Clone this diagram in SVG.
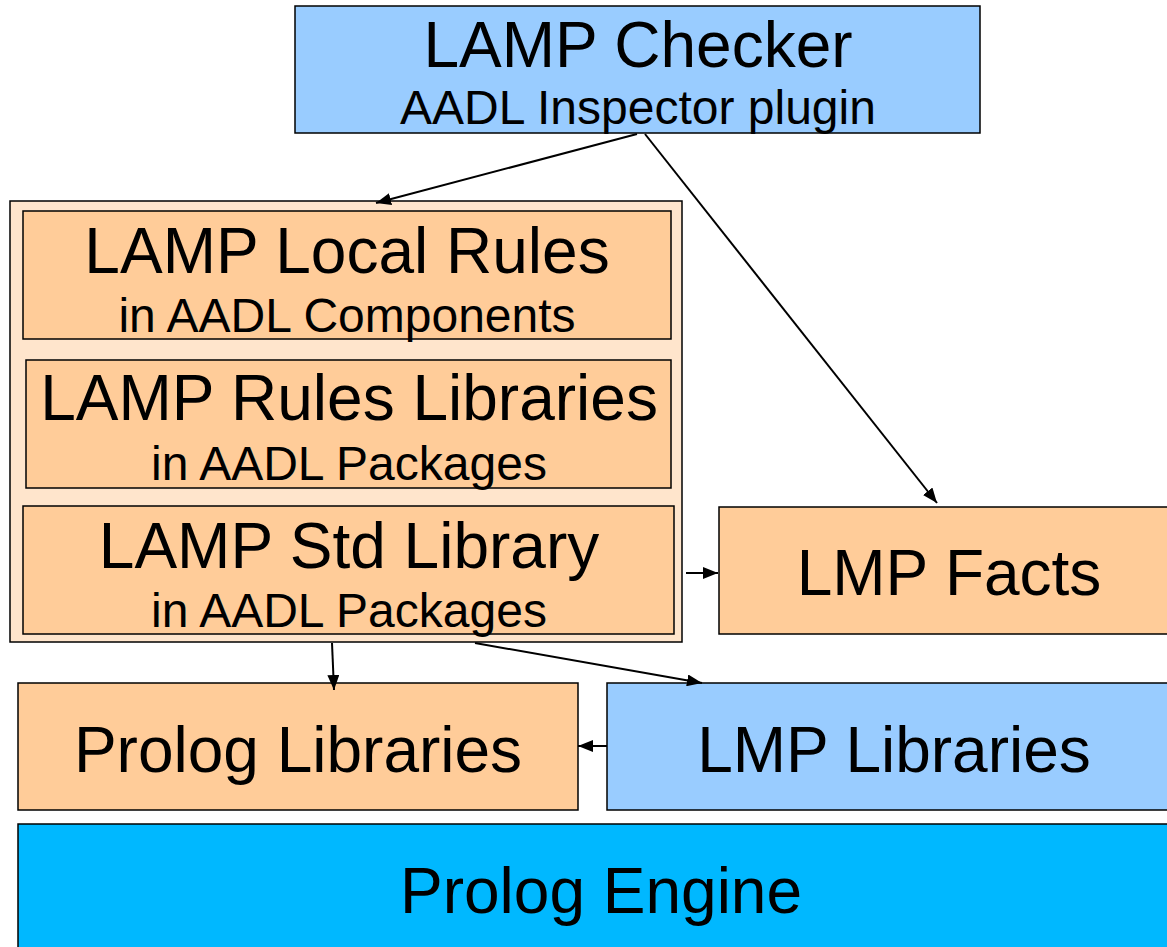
<svg xmlns="http://www.w3.org/2000/svg" width="1167" height="947" viewBox="0 0 1167 947">
<style>
.box{stroke:#000;stroke-width:1.5}
.blue{fill:#99CCFF}
.peach{fill:#FFCC99}
.lpeach{fill:#FFE5CC}
.engine{fill:#00B8FF}
text{font-family:"Liberation Sans",Arial,sans-serif;fill:#000;text-anchor:middle}
.big{font-size:64px}
.small{font-size:48px}
.conn line{stroke:#000;stroke-width:2;fill:none}
</style>
<defs>
<marker id="arr" viewBox="0 0 15 12" refX="15" refY="6" markerWidth="15" markerHeight="12" markerUnits="userSpaceOnUse" orient="auto">
<path d="M0,0 L15,6 L0,12 Z" fill="#000"/>
</marker>
</defs>
<rect width="1167" height="947" fill="#fff"/>
<g id="checker">
<rect class="box blue" x="295" y="6" width="685" height="127"/>
<text class="big" x="638" y="67">LAMP Checker</text>
<text class="small" x="638" y="124">AADL Inspector plugin</text>
</g>
<g id="container">
<rect class="box lpeach" x="10" y="201" width="672" height="441"/>
</g>
<g id="localrules">
<rect class="box peach" x="23" y="211" width="648" height="128"/>
<text class="big" x="347" y="273">LAMP Local Rules</text>
<text class="small" x="347" y="332">in AADL Components</text>
</g>
<g id="ruleslib">
<rect class="box peach" x="26" y="360" width="645" height="128"/>
<text class="big" x="349" y="420">LAMP Rules Libraries</text>
<text class="small" x="349" y="480">in AADL Packages</text>
</g>
<g id="stdlib">
<rect class="box peach" x="23" y="506" width="651" height="128"/>
<text class="big" x="349" y="568">LAMP Std Library</text>
<text class="small" x="349" y="627">in AADL Packages</text>
</g>
<g id="lmpfacts">
<rect class="box peach" x="719" y="507" width="470" height="127"/>
<text class="big" x="949" y="595">LMP Facts</text>
</g>
<g id="prologlib">
<rect class="box peach" x="18" y="683" width="560" height="127"/>
<text class="big" x="298" y="772">Prolog Libraries</text>
</g>
<g id="lmplib">
<rect class="box blue" x="607" y="683" width="575" height="127"/>
<text class="big" x="894" y="772">LMP Libraries</text>
</g>
<g id="engine">
<rect class="box engine" x="18" y="824" width="1170" height="140"/>
<text class="big" x="601" y="913">Prolog Engine</text>
</g>
<g id="connectors" class="conn">
<line x1="637" y1="134" x2="376" y2="203" marker-end="url(#arr)"/>
<line x1="645" y1="134" x2="937" y2="503" marker-end="url(#arr)"/>
<line x1="686" y1="573" x2="718" y2="573" marker-end="url(#arr)"/>
<line x1="332" y1="643" x2="334" y2="690" marker-end="url(#arr)"/>
<line x1="475" y1="643" x2="702" y2="683" marker-end="url(#arr)"/>
<line x1="607" y1="746" x2="578" y2="746" marker-end="url(#arr)"/>
</g>
</svg>
